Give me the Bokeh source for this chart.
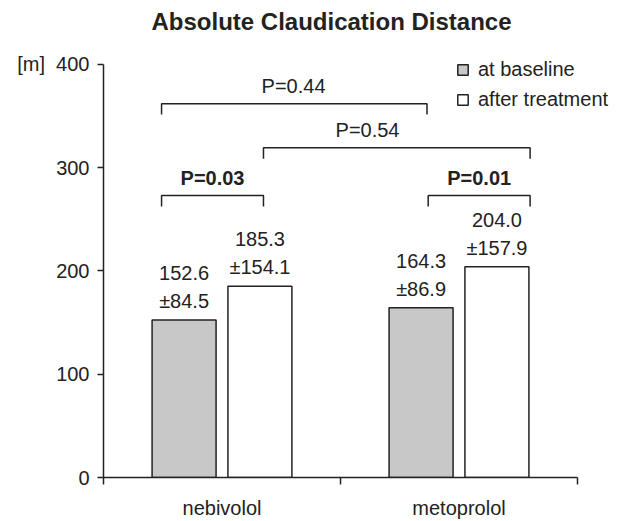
from bokeh.plotting import figure
from bokeh.models import (FixedTicker, Legend, LegendItem, ColumnDataSource, Range1d)
from bokeh.core.properties import value
from bokeh.embed import file_html
from bokeh.resources import INLINE

# ---- data ----
groups = ["nebivolol", "metoprolol"]
baseline = [152.6, 164.3]
baseline_sd = [84.5, 86.9]
after = [185.3, 204.0]
after_sd = [154.1, 157.9]
y_ticks = [0, 100, 200, 300, 400]
y_unit = "[m]"

# comparison brackets (x ends in category units, height in metres)
br_x0 = [0.245, 1.370, 0.245, 0.675]
br_x1 = [0.675, 1.800, 1.365, 1.800]
br_y = [273.0, 273.0, 362.0, 319.3]
br_text = ["P=0.03", "P=0.01", "P=0.44", "P=0.54"]
br_bold = [True, True, False, False]
br_lx = [0.46, 1.585, 0.802, 1.114]

FONT = "Liberation Sans"
INK = "#222222"
GREY = "#c8c8c8"

centers = [i + 0.5 for i in range(len(groups))]
off = 0.16
bw = 0.27
x_base = [c - off for c in centers]
x_after = [c + off for c in centers]

p = figure(width=630, height=521, x_range=Range1d(0, 2.2025), y_range=Range1d(0, 423.2),
           output_backend="svg", toolbar_location=None,
           min_border_left=103, min_border_right=5, min_border_top=40, min_border_bottom=44)
p.outline_line_color = None
p.grid.visible = False
p.background_fill_color = "white"
p.border_fill_color = "white"

# title
p.title.text = "Absolute Claudication Distance"
p.title.text_font = FONT
p.title.text_font_size = "24px"
p.title.text_font_style = "bold"
p.title.text_color = INK
p.title.align = "left"
p.title.offset = 48
p.title.standoff = 10
p.title.vertical_align = "middle"

src_b = ColumnDataSource(dict(x=x_base, top=baseline,
                              v=[f"{v:.1f}" for v in baseline],
                              s=[f"\u00b1{v:.1f}" for v in baseline_sd]))
src_a = ColumnDataSource(dict(x=x_after, top=after,
                              v=[f"{v:.1f}" for v in after],
                              s=[f"\u00b1{v:.1f}" for v in after_sd]))

r_b = p.vbar(x="x", top="top", width=bw, source=src_b, fill_color=GREY,
             line_color=INK, line_width=1.5)
r_a = p.vbar(x="x", top="top", width=bw, source=src_a, fill_color="white",
             line_color=INK, line_width=1.5)

for src in (src_b, src_a):
    p.text(x="x", y="top", text="v", source=src, y_offset=-47, text_align="center",
           text_baseline="middle", text_font=value(FONT), text_font_size="20px",
           text_color=INK)
    p.text(x="x", y="top", text="s", source=src, y_offset=-19, text_align="center",
           text_baseline="middle", text_font=value(FONT), text_font_size="20px",
           text_color=INK)

# brackets
tick = 10.5
bx, by = [], []
for x0, x1, y in zip(br_x0, br_x1, br_y):
    bx.append([x0, x0, x1, x1])
    by.append([y - tick, y, y, y - tick])
p.multi_line(xs=bx, ys=by, line_color=INK, line_width=1.5)
for t, b, lx, y in zip(br_text, br_bold, br_lx, br_y):
    p.text(x=[lx], y=[y], text=[t], y_offset=-18, text_align="center",
           text_baseline="middle", text_font=value(FONT), text_font_size="20px",
           text_font_style="bold" if b else "normal", text_color=INK)

# axes
xa = p.xaxis[0]
xa.ticker = FixedTicker(ticks=centers, minor_ticks=[0, 1, 2])
xa.major_label_overrides = {c: g for c, g in zip(centers, groups)}
xa.bounds = (0, 2)
xa.major_tick_out = 0
xa.major_tick_in = 0
xa.minor_tick_out = 7
xa.minor_tick_in = 0
xa.minor_tick_line_color = INK
xa.minor_tick_line_width = 1.5
xa.axis_line_color = INK
xa.axis_line_width = 1.5
xa.major_label_standoff = 12
xa.major_label_text_font = FONT
xa.major_label_text_font_size = "20px"
xa.major_label_text_color = INK

ya = p.yaxis[0]
ya.ticker = FixedTicker(ticks=y_ticks)
ya.bounds = (0, 400)
ya.major_label_overrides = {y_ticks[-1]: y_unit + "\u00a0\u00a0" + str(y_ticks[-1])}
ya.major_tick_out = 6
ya.major_tick_in = 0
ya.minor_tick_out = 0
ya.minor_tick_in = 0
ya.major_tick_line_color = INK
ya.major_tick_line_width = 1.5
ya.axis_line_color = INK
ya.axis_line_width = 1.5
ya.major_label_standoff = 8
ya.major_label_text_font = FONT
ya.major_label_text_font_size = "20px"
ya.major_label_text_color = INK

legend = Legend(items=[LegendItem(label="at baseline", renderers=[r_b]),
                       LegendItem(label="after treatment", renderers=[r_a])],
                location=(353, 366), orientation="vertical",
                glyph_width=13, glyph_height=13, label_standoff=9,
                label_height=24, spacing=6, padding=0, margin=0,
                border_line_color=None, background_fill_alpha=0,
                label_text_font=FONT, label_text_font_size="20px",
                label_text_color=INK)
p.add_layout(legend)

open("out.html", "w").write(file_html(p, INLINE))
